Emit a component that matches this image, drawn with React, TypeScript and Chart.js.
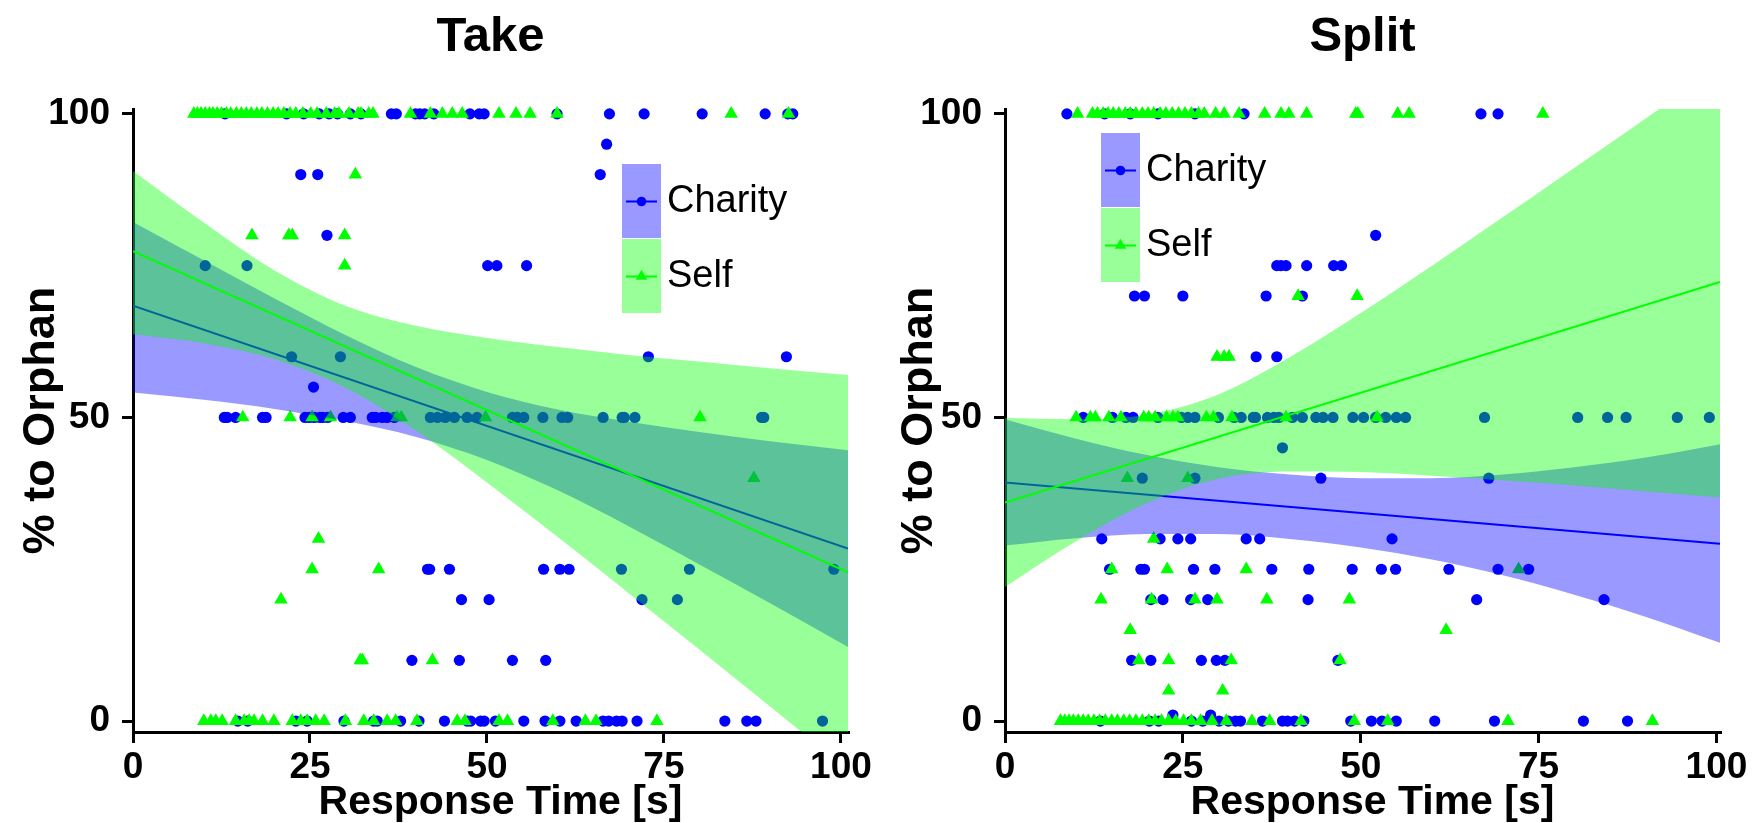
import React, { useEffect, useRef } from 'react';
import { Chart, registerables } from 'chart.js';

Chart.register(...registerables);

// ---------------- TAKE panel: Charity (response times at each % level) ----------------
const takeCharityAt100 = [13.0, 21.7, 24.1, 26.3, 27.7, 28.9, 30.7, 32.2, 36.5, 37.2, 39.9, 40.5, 41.2, 42.5, 47.6, 48.9, 49.6, 59.9, 67.3, 72.2, 80.4, 89.3, 92.5, 93.2];
const takeCharityAt95 = [66.9];
const takeCharityAt90 = [23.7, 26.1, 66.0];
const takeCharityAt80 = [27.4];
const takeCharityAt75 = [10.2, 16.1, 50.1, 51.4, 55.6];
const takeCharityAt60 = [22.4, 29.3, 72.8, 92.3];
const takeCharityAt55 = [25.5];
const takeCharityAt50 = [12.9, 13.3, 14.5, 18.3, 18.8, 24.3, 24.9, 25.6, 26.4, 26.8, 27.5, 29.7, 30.7, 33.8, 34.3, 35.2, 35.9, 36.9, 42.0, 43.0, 44.1, 45.4, 47.2, 48.6, 53.6, 54.3, 55.2, 57.9, 60.6, 61.4, 66.4, 69.1, 69.4, 70.9, 88.8, 89.1];
const takeCharityAt25 = [41.6, 41.9, 44.7, 58.0, 60.3, 61.6, 69.0, 78.6, 99.0];
const takeCharityAt20 = [46.4, 50.3, 71.9, 76.9];
const takeCharityAt10 = [39.4, 46.1, 53.6, 58.3];
const takeCharityAt0 = [14.8, 16.2, 23.0, 24.6, 29.8, 34.0, 34.5, 37.8, 40.4, 44.0, 47.2, 47.7, 49.1, 49.6, 51.2, 55.2, 58.2, 60.3, 62.6, 66.4, 67.2, 68.3, 69.1, 71.2, 83.6, 86.7, 88.0, 97.4];

// ---------------- TAKE panel: Self ----------------
const takeSelfAt100 = [8.6, 9.1, 9.6, 10.2, 10.8, 11.3, 11.9, 12.5, 13.2, 13.8, 14.6, 15.3, 16.0, 16.7, 17.5, 18.2, 19.0, 19.8, 20.5, 21.3, 22.2, 23.0, 24.0, 25.1, 26.0, 27.3, 28.5, 29.1, 30.5, 31.8, 32.2, 33.3, 33.9, 39.2, 42.0, 43.7, 45.1, 46.5, 51.7, 54.1, 56.1, 59.9, 84.5, 92.6];
const takeSelfAt90 = [31.4];
const takeSelfAt80 = [16.8, 22.0, 22.5, 29.9];
const takeSelfAt75 = [29.9];
const takeSelfAt50 = [15.5, 22.2, 25.3, 27.9, 37.3, 37.9, 49.8, 80.1];
const takeSelfAt40 = [87.7];
const takeSelfAt30 = [26.2];
const takeSelfAt25 = [25.3, 34.7];
const takeSelfAt20 = [20.9];
const takeSelfAt10 = [32.1, 32.4, 42.3];
const takeSelfAt0 = [10.0, 11.0, 11.7, 12.6, 14.5, 15.7, 16.4, 17.1, 18.3, 19.9, 22.5, 23.7, 24.6, 25.8, 27.0, 30.0, 32.6, 34.0, 35.9, 37.1, 40.1, 45.8, 46.9, 51.7, 52.9, 59.3, 63.9, 65.4, 74.0];

// ---------------- TAKE fits ----------------
const takeFitX = [0, 101];
const takeCharityFit = [68.4, 28.4];
const takeSelfFit = [77.4, 24.5];
const takeBandX = [0, 10, 20, 30, 40, 50, 60, 70, 80, 90, 101];
const takeCharityLo = [54.1, 52.9, 51.4, 49.4, 46.8, 43.0, 38.0, 32.1, 25.8, 19.4, 12.2];
const takeCharityHi = [82.2, 75.9, 69.6, 63.6, 58.3, 54.2, 51.3, 49.3, 47.6, 46.1, 44.6];
const takeSelfLo = [63.7, 62.2, 59.6, 54.9, 47.8, 39.3, 30.3, 21.1, 11.8, 2.4, -8.0];
const takeSelfHi = [90.6, 82.1, 74.2, 68.4, 65.1, 63.1, 61.6, 60.3, 59.2, 58.1, 57.0];

// ---------------- SPLIT panel: Charity ----------------
const splitCharityAt100 = [8.7, 14.0, 17.6, 21.5, 26.7, 33.6, 66.9, 69.3];
const splitCharityAt80 = [52.1];
const splitCharityAt75 = [38.2, 38.8, 39.5, 42.4, 46.2, 47.3];
const splitCharityAt70 = [18.2, 19.6, 25.0, 36.7, 41.8];
const splitCharityAt60 = [35.3, 38.2];
const splitCharityAt50 = [11.0, 15.1, 17.0, 18.0, 21.5, 24.8, 25.7, 26.7, 30.0, 32.2, 33.2, 34.9, 35.2, 36.9, 37.8, 38.5, 40.4, 41.8, 43.7, 44.7, 46.1, 48.9, 50.4, 52.1, 53.5, 55.0, 56.3, 67.4, 80.5, 84.7, 87.3, 94.5, 99.0];
const splitCharityAt45 = [39.0];
const splitCharityAt40 = [19.3, 26.7, 44.4, 68.0];
const splitCharityAt30 = [13.6, 21.8, 24.3, 26.1, 33.9, 35.8, 54.4];
const splitCharityAt25 = [14.7, 19.1, 19.6, 26.5, 29.5, 37.5, 42.7, 48.8, 52.9, 54.9, 62.4, 69.3, 73.6];
const splitCharityAt20 = [20.5, 22.2, 26.1, 28.5, 42.6, 66.3, 84.2];
const splitCharityAt10 = [17.8, 20.5, 27.6, 29.7, 30.9, 46.8];
const splitCharityAt1 = [23.6, 28.9];
const splitCharityAt0 = [13.4, 20.3, 21.6, 26.2, 27.8, 30.1, 31.4, 32.4, 33.1, 36.2, 39.0, 39.7, 40.7, 42.0, 48.6, 51.5, 53.0, 55.0, 60.4, 68.8, 81.3, 87.5];

// ---------------- SPLIT panel: Self ----------------
const splitSelfAt100 = [10.2, 12.3, 13.0, 13.8, 14.5, 15.2, 16.0, 16.9, 17.6, 18.4, 19.3, 20.1, 20.9, 21.8, 22.6, 23.5, 24.4, 25.3, 26.2, 27.2, 28.0, 29.6, 30.8, 32.9, 36.5, 38.8, 39.9, 42.4, 49.3, 49.6, 55.2, 56.8, 75.6];
const splitSelfAt70 = [41.2, 49.5];
const splitSelfAt60 = [29.8, 30.8, 31.5];
const splitSelfAt50 = [10.0, 12.0, 12.7, 14.6, 16.3, 19.5, 20.2, 21.1, 22.7, 23.6, 24.3, 28.3, 29.3, 31.9, 39.5, 52.3];
const splitSelfAt40 = [17.2, 25.7];
const splitSelfAt30 = [20.9];
const splitSelfAt25 = [15.0, 22.8, 33.9, 72.2];
const splitSelfAt20 = [13.5, 20.6, 26.7, 29.8, 36.8, 48.4];
const splitSelfAt15 = [17.6, 62.0];
const splitSelfAt10 = [18.8, 23.0, 31.8, 47.1];
const splitSelfAt5 = [23.0, 30.6];
const splitSelfAt0 = [7.8, 8.4, 9.0, 9.6, 10.3, 11.0, 11.7, 12.5, 13.3, 14.1, 15.0, 15.8, 16.7, 17.5, 18.4, 19.3, 20.2, 21.1, 22.0, 23.0, 24.0, 25.1, 26.2, 27.5, 29.1, 31.1, 34.7, 37.2, 41.6, 49.1, 53.8, 70.7, 91.0];

// ---------------- SPLIT fits ----------------
const splitFitX = [0, 100.5];
const splitCharityFit = [39.3, 29.2];
const splitSelfFit = [36.0, 72.3];
const splitBandX = [0, 10, 20, 30, 40, 50, 60, 70, 80, 90, 100.5];
const splitCharityLo = [28.9, 30.1, 30.8, 30.8, 30.0, 28.6, 26.6, 24.0, 20.8, 17.2, 12.9];
const splitCharityHi = [49.7, 46.5, 43.8, 41.8, 40.6, 40.0, 40.0, 40.6, 41.8, 43.4, 45.6];
const splitSelfLo = [22.1, 29.6, 35.9, 39.9, 41.1, 41.0, 40.4, 39.6, 38.8, 37.8, 36.8];
const splitSelfHi = [49.9, 49.7, 50.5, 53.8, 59.9, 67.2, 75.0, 83.0, 91.1, 99.2, 107.8];

// ---------------- axis ticks & labels ----------------
const xTicks = [0, 25, 50, 75, 100];
const yTicks = [0, 50, 100];
const seriesNames = ['Charity', 'Self'];
const xTitle = 'Response Time [s]';
const yTitle = '% to Orphan';

const BLUE = '#0000ff';
const GREEN = '#00ff00';
const BLUE_FILL = 'rgba(0,0,255,0.4)';
const GREEN_FILL = 'rgba(0,255,0,0.4)';
const FONT = '"Liberation Sans", Arial, sans-serif';
const DOT_R = 5.6;
const TRI_R = 7.8;

type Pt = { x: number; y: number };
const at = (y: number, xs: number[]): Pt[] => xs.map((x) => ({ x, y }));
const xy = (xs: number[], ys: number[]): Pt[] => xs.map((x, i) => ({ x, y: ys[i] }));

const takeCharityPts = [
  ...at(100, takeCharityAt100), ...at(95, takeCharityAt95), ...at(90, takeCharityAt90),
  ...at(80, takeCharityAt80), ...at(75, takeCharityAt75), ...at(60, takeCharityAt60),
  ...at(55, takeCharityAt55), ...at(50, takeCharityAt50), ...at(25, takeCharityAt25),
  ...at(20, takeCharityAt20), ...at(10, takeCharityAt10), ...at(0, takeCharityAt0),
];
const takeSelfPts = [
  ...at(100, takeSelfAt100), ...at(90, takeSelfAt90), ...at(80, takeSelfAt80),
  ...at(75, takeSelfAt75), ...at(50, takeSelfAt50), ...at(40, takeSelfAt40),
  ...at(30, takeSelfAt30), ...at(25, takeSelfAt25), ...at(20, takeSelfAt20),
  ...at(10, takeSelfAt10), ...at(0, takeSelfAt0),
];
const splitCharityPts = [
  ...at(100, splitCharityAt100), ...at(80, splitCharityAt80), ...at(75, splitCharityAt75),
  ...at(70, splitCharityAt70), ...at(60, splitCharityAt60), ...at(50, splitCharityAt50),
  ...at(45, splitCharityAt45), ...at(40, splitCharityAt40), ...at(30, splitCharityAt30),
  ...at(25, splitCharityAt25), ...at(20, splitCharityAt20), ...at(10, splitCharityAt10),
  ...at(1, splitCharityAt1), ...at(0, splitCharityAt0),
];
const splitSelfPts = [
  ...at(100, splitSelfAt100), ...at(70, splitSelfAt70), ...at(60, splitSelfAt60),
  ...at(50, splitSelfAt50), ...at(40, splitSelfAt40), ...at(30, splitSelfAt30),
  ...at(25, splitSelfAt25), ...at(20, splitSelfAt20), ...at(15, splitSelfAt15),
  ...at(10, splitSelfAt10), ...at(5, splitSelfAt5), ...at(0, splitSelfAt0),
];

type Panel = {
  title: string;
  xMax: number;
  yAxisWidth: number;
  padRight: number;
  legend: { x: number; y: number; w: number; h: number };
  charityPts: Pt[];
  selfPts: Pt[];
  fitX: number[];
  charityFit: number[];
  selfFit: number[];
  bandX: number[];
  charityLo: number[];
  charityHi: number[];
  selfLo: number[];
  selfHi: number[];
};

const panels: Panel[] = [
  {
    title: 'Take', xMax: 101, yAxisWidth: 133, padRight: 30,
    legend: { x: 622, y: 164, w: 39, h: 75 },
    charityPts: takeCharityPts, selfPts: takeSelfPts,
    fitX: takeFitX, charityFit: takeCharityFit, selfFit: takeSelfFit,
    bandX: takeBandX, charityLo: takeCharityLo, charityHi: takeCharityHi, selfLo: takeSelfLo, selfHi: takeSelfHi,
  },
  {
    title: 'Split', xMax: 100.5, yAxisWidth: 127, padRight: 36,
    legend: { x: 223, y: 133, w: 39, h: 75 },
    charityPts: splitCharityPts, selfPts: splitSelfPts,
    fitX: splitFitX, charityFit: splitCharityFit, selfFit: splitSelfFit,
    bandX: splitBandX, charityLo: splitCharityLo, charityHi: splitCharityHi, selfLo: splitSelfLo, selfHi: splitSelfHi,
  },
];

function drawMarker(ctx: CanvasRenderingContext2D, kind: 'circle' | 'triangle', x: number, y: number, color: string) {
  ctx.fillStyle = color;
  ctx.beginPath();
  if (kind === 'circle') {
    ctx.arc(x, y, 4.8, 0, Math.PI * 2);
  } else {
    const r = 6.7;
    ctx.moveTo(x, y - r);
    ctx.lineTo(x + r * Math.cos(Math.PI / 6), y + r * Math.sin(Math.PI / 6));
    ctx.lineTo(x - r * Math.cos(Math.PI / 6), y + r * Math.sin(Math.PI / 6));
    ctx.closePath();
  }
  ctx.fill();
}

function makeDecor(p: Panel) {
  return {
    id: 'decor',
    afterDraw(chart: any) {
      const ctx: CanvasRenderingContext2D = chart.ctx;
      const a = chart.chartArea;
      ctx.save();
      ctx.fillStyle = '#000';
      ctx.textAlign = 'center';
      ctx.textBaseline = 'alphabetic';
      ctx.font = `bold 49px ${FONT}`;
      ctx.fillText(p.title, (a.left + a.right) / 2, 51);
      ctx.font = `bold 41px ${FONT}`;
      ctx.fillText(xTitle, (a.left + a.right) / 2 + 10, 814);
      ctx.save();
      ctx.font = `bold 45px ${FONT}`;
      ctx.translate(54, (a.top + a.bottom) / 2);
      ctx.rotate(-Math.PI / 2);
      ctx.fillText(yTitle, 0, 0);
      ctx.restore();

      // legend
      const L = p.legend;
      const keys = [
        { fill: BLUE_FILL, color: BLUE, kind: 'circle' as const, name: seriesNames[0] },
        { fill: GREEN_FILL, color: GREEN, kind: 'triangle' as const, name: seriesNames[1] },
      ];
      keys.forEach((k, i) => {
        const top = L.y + i * L.h;
        ctx.fillStyle = k.fill;
        ctx.fillRect(L.x, top, L.w, L.h - 1);
        const cy = top + L.h / 2;
        ctx.strokeStyle = k.color;
        ctx.lineWidth = 2;
        ctx.beginPath();
        ctx.moveTo(L.x + 4, cy);
        ctx.lineTo(L.x + L.w - 4, cy);
        ctx.stroke();
        drawMarker(ctx, k.kind, L.x + L.w / 2, cy, k.color);
        ctx.fillStyle = '#000';
        ctx.font = `38px ${FONT}`;
        ctx.textAlign = 'left';
        ctx.textBaseline = 'middle';
        ctx.fillText(k.name, L.x + L.w + 6, cy);
      });
      ctx.restore();
    },
  };
}

function makeConfig(p: Panel): any {
  const tickFont = { family: FONT, size: 37, weight: 'bold' as const };
  return {
    type: 'line',
    data: {
      datasets: [
        {
          label: seriesNames[0], data: p.charityPts, showLine: false, pointStyle: 'circle',
          pointRadius: DOT_R, pointBackgroundColor: BLUE, pointBorderColor: BLUE, pointBorderWidth: 0,
          order: 9, clip: false,
        },
        {
          label: seriesNames[1], data: p.selfPts, showLine: false, pointStyle: 'triangle',
          pointRadius: TRI_R, pointBackgroundColor: GREEN, pointBorderColor: GREEN, pointBorderWidth: 0,
          order: 8, clip: false,
        },
        {
          label: 'charityLo', data: xy(p.bandX, p.charityLo), borderWidth: 0, borderColor: 'transparent',
          pointRadius: 0, fill: false, cubicInterpolationMode: 'monotone', order: 7,
        },
        {
          label: 'charityHi', data: xy(p.bandX, p.charityHi), borderWidth: 0, borderColor: 'transparent',
          backgroundColor: BLUE_FILL, pointRadius: 0, fill: { target: 2 }, cubicInterpolationMode: 'monotone', order: 6,
        },
        {
          label: 'charityFit', data: xy(p.fitX, p.charityFit), borderWidth: 2, borderColor: BLUE,
          pointRadius: 0, fill: false, order: 5,
        },
        {
          label: 'selfLo', data: xy(p.bandX, p.selfLo), borderWidth: 0, borderColor: 'transparent',
          pointRadius: 0, fill: false, cubicInterpolationMode: 'monotone', order: 4,
        },
        {
          label: 'selfHi', data: xy(p.bandX, p.selfHi), borderWidth: 0, borderColor: 'transparent',
          backgroundColor: GREEN_FILL, pointRadius: 0, fill: { target: 5 }, cubicInterpolationMode: 'monotone', order: 3,
        },
        {
          label: 'selfFit', data: xy(p.fitX, p.selfFit), borderWidth: 2, borderColor: GREEN,
          pointRadius: 0, fill: false, order: 2,
        },
      ],
    },
    options: {
      responsive: false,
      animation: false,
      devicePixelRatio: 1,
      events: [],
      layout: { padding: { top: 109, right: p.padRight, bottom: 0, left: 0 } },
      plugins: { legend: { display: false }, title: { display: false }, tooltip: { enabled: false } },
      scales: {
        x: {
          type: 'linear', min: 0, max: p.xMax,
          afterBuildTicks: (s: any) => { s.ticks = xTicks.map((v) => ({ value: v })); },
          afterFit: (s: any) => { s.height = 91; },
          grid: { drawOnChartArea: false, drawTicks: true, tickLength: 11, lineWidth: 3, color: '#000' },
          border: { display: true, width: 3, color: '#000' },
          ticks: { font: tickFont, color: '#000', padding: 3, maxRotation: 0, autoSkip: false },
        },
        y: {
          type: 'linear', min: -1.8, max: 100.8,
          afterBuildTicks: (s: any) => { s.ticks = yTicks.map((v) => ({ value: v })); },
          afterFit: (s: any) => { s.width = p.yAxisWidth; },
          grid: { drawOnChartArea: false, drawTicks: true, tickLength: 11, lineWidth: 3, color: '#000' },
          border: { display: true, width: 3, color: '#000' },
          ticks: { font: tickFont, color: '#000', padding: 12, autoSkip: false },
        },
      },
    },
    plugins: [makeDecor(p)],
  };
}

function PanelChart({ panel, left }: { panel: Panel; left: number }) {
  const ref = useRef<HTMLCanvasElement | null>(null);
  useEffect(() => {
    if (!ref.current) return;
    const chart = new Chart(ref.current, makeConfig(panel));
    return () => chart.destroy();
  }, [panel]);
  return (
    <canvas
      ref={ref}
      width={878}
      height={823}
      style={{ position: 'absolute', left, top: 0, width: 878, height: 823 }}
    />
  );
}

export default function App() {
  return (
    <div style={{ position: 'absolute', left: 0, top: 0, width: 1756, height: 823, background: '#fff' }}>
      <PanelChart panel={panels[0]} left={0} />
      <PanelChart panel={panels[1]} left={878} />
    </div>
  );
}
